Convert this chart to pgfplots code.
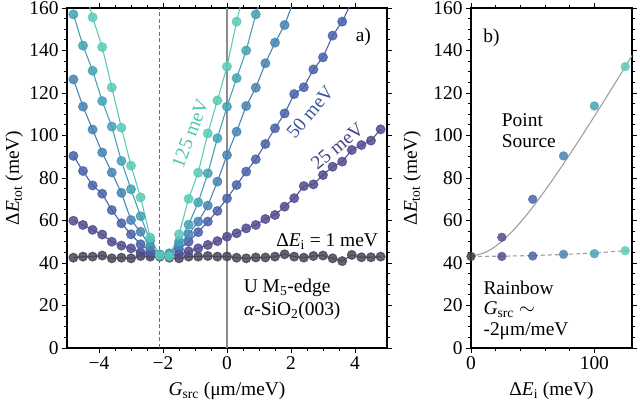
\documentclass[border=0pt]{standalone}
\usepackage{fontspec}
\setmainfont{Liberation Serif}
\usepackage{pgfplots}
\pgfplotsset{compat=1.18}
\usepackage{pgfplotstable}

\definecolor{c1}{HTML}{4A4659}
\definecolor{c2}{HTML}{524E8E}
\definecolor{c3}{HTML}{4A62A8}
\definecolor{c4}{HTML}{4884B3}
\definecolor{c5}{HTML}{44A2B5}
\definecolor{c6}{HTML}{5CCAB5}
\definecolor{c0}{HTML}{3B3B42}
\definecolor{t50}{HTML}{3B55A0}
\definecolor{t25}{HTML}{4A4282}
\definecolor{t125}{HTML}{4CC6AE}

\newcommand{\fs}{\fontsize{19.5}{21}\selectfont}

\pgfplotstableread{
G     e1    e25   e50   e75    e100   e125
-4.8  42.5  59.9  90.4  126.4  157.0  nan
-4.5  43.0  57.9  83.3  113.6  142.3  172.0
-4.2  43.0  55.6  76.5  102.8  130.5  155.6
-3.9  43.5  53.4  72.6  92.0   116.2  141.6
-3.6  42.2  50.0  64.9  82.6   104.2  122.6
-3.3  42.5  48.2  58.7  73.0   88.0   103.7
-3.0  42.2  46.9  53.5  60.2   74.7   85.8
-2.7  43.3  45.0  48.8  54.7   62.0   70.9
-2.4  43.0  44.2  45.5  47.7   50.5   52.0
-2.1  43.0  43.5  43.5  44.0   44.0   43.5
-1.8  42.5  43.2  44.0  44.5   44.5   43.2
-1.5  42.2  44.0  46.5  48.5   50.0   53.5
-1.2  43.0  45.5  50.0  53.5   58.0   70.2
-0.9  43.0  46.9  54.5  59.5   68.5   82.5
-0.6  43.3  48.5  59.5  67.0   82.2   101.0
-0.3  43.0  50.3  64.5  78.3   98.7   116.5
0.0   43.1  52.4  70.4  90.8   113.6  132.4
0.3   42.5  54.0  76.7  101.8  127.0  153.6
0.6   42.2  56.3  83.0  113.9  140.0  172.0
0.9   42.6  57.9  88.8  122.5  157.0  nan
1.2   42.6  60.7  96.0  134.0  172.0  nan
1.5   43.0  62.6  103.4 143.7  nan    nan
1.8   44.1  66.5  110.4 152.0  nan    nan
2.1   43.0  70.5  119.5 164.0  nan    nan
2.4   42.5  76.2  122.7 nan    nan    nan
2.7   43.3  77.0  131.1 nan    nan    nan
3.0   43.5  81.4  136.8 nan    nan    nan
3.3   42.2  85.3  147.0 nan    nan    nan
3.6   40.9  87.7  153.6 nan    nan    nan
3.9   43.8  93.2  163.0 nan    nan    nan
4.2   42.7  95.5  nan   nan    nan    nan
4.5   42.7  97.6  nan   nan    nan    nan
4.8   43.0  102.9 nan   nan    nan    nan
}\tbl

\pgfplotsset{
  myaxis/.style={
    scale only axis, height=340bp,
    ymin=0, ymax=160, ytick={0,20,...,160}, minor y tick num=3,
    yticklabels={0,20,40,60,80,100,120,140,160},
    tick align=outside, major tick length=5bp, minor tick length=3bp,
    axis line style={line width=1.1bp},
    every major tick/.append style={line width=0.9bp, black},
    every minor tick/.append style={line width=0.8bp, black},
    tick label style={font=\fs},
    label style={font=\fs},
    yticklabel pos=left,
    /pgf/number format/assume math mode=true,
  },
  ser/.style={color=#1, line width=1.1bp, mark=*, mark size=4.4bp,
    mark options={draw=#1, fill=#1, opacity=0.85}},
  pt/.style={color=#1, only marks, mark=*, mark size=4.4bp,
    mark options={draw=#1, fill=#1, opacity=0.85}},
}

\begin{document}
\begin{tikzpicture}
\useasboundingbox (0,0) rectangle (640bp,403bp);
\begin{axis}[myaxis,
  at={(67bp,55bp)}, anchor=south west, width=320bp,
  xmin=-5, xmax=5, xtick={-4,-2,0,2,4}, xticklabels={−4,−2,0,2,4},
  minor x tick num=3,
  xlabel={\textit{G}\textsubscript{src} (μm/meV)},
  ylabel={Δ\textit{E}\textsubscript{tot} (meV)},
  xlabel style={at={(axis description cs:0.5,-0.125)}, anchor=center},
  ylabel style={at={(axis description cs:-0.165,0.5)}, anchor=center},
]
\addplot[gray!85!black, line width=0.9bp, dash pattern=on 4bp off 2.5bp] coordinates {(-2.12,0) (-2.12,160)};
\addplot[gray!90, line width=1.2bp] coordinates {(0,0) (0,160)};
\addplot[ser=c1] table[x=G, y=e1] {\tbl};
\addplot[ser=c2] table[x=G, y=e25] {\tbl};
\addplot[ser=c3] table[x=G, y=e50] {\tbl};
\addplot[ser=c4] table[x=G, y=e75] {\tbl};
\addplot[ser=c5] table[x=G, y=e100] {\tbl};
\addplot[ser=c6] table[x=G, y=e125] {\tbl};
\node[font=\fs] at (axis cs:4.26,146.4) {a)};
\node[font=\fs, text=t125, rotate=69, inner sep=0pt] at (axis cs:-1.15,101) {125 meV};
\node[font=\fs, text=t50, rotate=50, inner sep=0pt] at (axis cs:2.6,111) {50 meV};
\node[font=\fs, text=t25, rotate=40, inner sep=0pt] at (axis cs:3.45,95) {25 meV};
\node[font=\fs] at (axis cs:3.13,50) {Δ\textit{E}\textsubscript{i} = 1 meV};
\node[font=\fs, anchor=west, inner sep=0pt] at (axis cs:0.52,28.2) {U M\textsubscript{5}-edge};
\node[font=\fs, anchor=west, inner sep=0pt] at (axis cs:0.52,17.4) {\textit{α}-SiO\textsubscript{2}(003)};
\end{axis}

\begin{axis}[myaxis,
  at={(471bp,55bp)}, anchor=south west, width=161bp,
  xmin=0, xmax=130.5, xtick={0,100}, xticklabels={0,100}, minor x tick num=4,
  xlabel={Δ\textit{E}\textsubscript{i} (meV)},
  ylabel={Δ\textit{E}\textsubscript{tot} (meV)},
  xlabel style={at={(axis description cs:0.5,-0.125)}, anchor=center},
  ylabel style={at={(axis description cs:-0.366,0.5)}, anchor=center},
]
\addplot[gray!75, line width=1.1bp] coordinates {
(0,43.50) (5,43.79) (10,44.63) (15,46.01) (20,47.88) (25,50.17) (30,52.84)
(35,55.83) (40,59.10) (45,62.59) (50,66.27) (55,70.12) (60,74.11) (65,78.21)
(70,82.42) (75,86.70) (80,91.06) (85,95.48) (90,99.96) (95,104.49) (100,109.05)
(105,113.65) (110,118.29) (115,122.95) (120,127.64) (125,132.35) (130,137.08) (131,138.03)};
\addplot[gray!75, line width=1.1bp, dash pattern=on 4bp off 3bp] coordinates {
(0,43.1) (25,43.2) (50,43.5) (75,44.0) (100,44.7) (125,45.8) (131,46.2)};
\addplot[pt=c0] coordinates {(0,43.1)};
\addplot[pt=c2] coordinates {(25,52.1) (25,43.1)};
\addplot[pt=c3] coordinates {(50,70.0) (50,43.3)};
\addplot[pt=c4] coordinates {(75,90.4) (75,44.1)};
\addplot[pt=c5] coordinates {(100,113.9) (100,44.4)};
\addplot[pt=c6] coordinates {(125,132.4) (125,45.8)};
\node[font=\fs] at (axis cs:16.6,146.1) {b)};
\node[font=\fs, anchor=west, inner sep=0pt] at (axis cs:24.9,107.3) {Point};
\node[font=\fs, anchor=west, inner sep=0pt] at (axis cs:24.9,97.4) {Source};
\node[font=\fs, anchor=west, inner sep=0pt] at (axis cs:10,28.1) {Rainbow};
\node[font=\fs, anchor=west, inner sep=0pt] at (axis cs:10,17.9) {\textit{G}\textsubscript{src} $\sim$};
\node[font=\fs, anchor=west, inner sep=0pt] at (axis cs:10,7.7) {-2μm/meV};
\end{axis}
\end{tikzpicture}
\end{document}
